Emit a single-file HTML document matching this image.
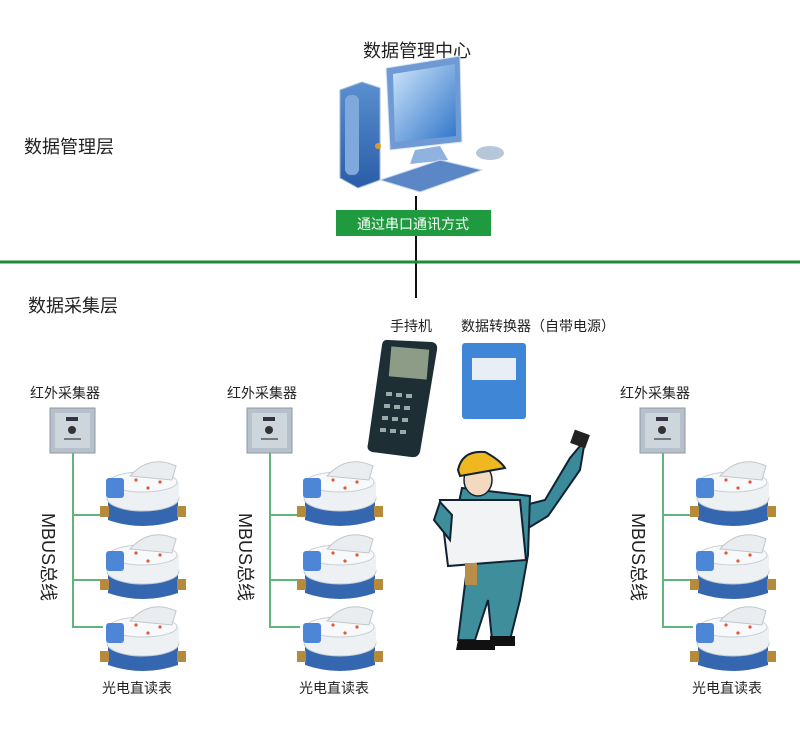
<!DOCTYPE html>
<html><head><meta charset="utf-8"><style>
html,body{margin:0;padding:0;background:#fff;}
svg{display:block;}
text{font-family:"Liberation Sans","Noto Sans CJK SC",sans-serif;fill:#222;}
</style></head><body>
<svg width="800" height="752" viewBox="0 0 800 752" xmlns="http://www.w3.org/2000/svg">
<defs>
<linearGradient id="bl" x1="0" y1="0" x2="0" y2="1"><stop offset="0" stop-color="#5a8fd0"/><stop offset="1" stop-color="#2a5da8"/></linearGradient>
<linearGradient id="scr" x1="0" y1="0" x2="1" y2="1"><stop offset="0" stop-color="#cfe6fb"/><stop offset="1" stop-color="#2e74c9"/></linearGradient>
<g id="meter">
  <path d="M8 40 L78 40 L78 60 Q43 72 8 60 Z" fill="#3566b0"/>
  <rect x="0" y="46" width="9" height="11" fill="#b58a3a"/>
  <rect x="77" y="46" width="9" height="11" fill="#b58a3a"/>
  <ellipse cx="43" cy="38" rx="36" ry="13" fill="#eef1f3" stroke="#c6ccd2"/>
  <rect x="7" y="22" width="72" height="16" fill="#eef1f3"/>
  <ellipse cx="43" cy="22" rx="34" ry="10" fill="#f8f9fa" stroke="#c8ced4"/>
  <path d="M30 16 Q50 -6 76 6 L72 20 Z" fill="#e9edf0" stroke="#c0c7cd"/>
  <rect x="6" y="18" width="18" height="20" rx="3" fill="#4d86d6"/>
  <circle cx="36" cy="20" r="1.6" fill="#e05a3a"/><circle cx="48" cy="28" r="1.6" fill="#e05a3a"/><circle cx="60" cy="22" r="1.6" fill="#e05a3a"/>
</g>
<g id="coll">
  <rect x="0" y="0" width="45" height="45" fill="#b7c1cb" stroke="#8e99a4"/>
  <rect x="5" y="5" width="35" height="35" fill="#cdd5dd"/>
  <rect x="16" y="9" width="12" height="4" fill="#334"/>
  <circle cx="22" cy="22" r="4" fill="#333"/>
  <rect x="14" y="30" width="17" height="2" fill="#777"/>
</g>
</defs>

<text x="417" y="57" font-size="18" text-anchor="middle">数据管理中心</text>
<text x="24" y="153" font-size="18">数据管理层</text>
<text x="28" y="312" font-size="18">数据采集层</text>

<path d="M340 90 L362 82 L380 88 L380 180 L358 188 L340 178 Z" fill="url(#bl)" stroke="#9fb8d8"/>
<rect x="345" y="95" width="14" height="80" rx="6" fill="#7fa8dc"/>
<circle cx="378" cy="146" r="3" fill="#e09a2a"/>
<path d="M386 68 L460 56 L462 142 L390 150 Z" fill="#6f9ad4" stroke="#d8e4f2"/>
<path d="M393 74 L455 64 L456 136 L395 142 Z" fill="url(#scr)"/>
<path d="M415 150 L440 146 L448 160 L410 164 Z" fill="#8fb2de"/>
<path d="M380 180 L440 160 L482 170 L420 192 Z" fill="#5b87c6" stroke="#c9d9ee"/>
<ellipse cx="490" cy="153" rx="14" ry="7" fill="#b6c7da"/>

<line x1="416" y1="196" x2="416" y2="298" stroke="#111" stroke-width="2"/>
<rect x="336" y="210" width="155" height="26" fill="#1f9a3e"/>
<text x="413" y="229" font-size="14" text-anchor="middle" style="fill:#fff">通过串口通讯方式</text>
<line x1="0" y1="262" x2="800" y2="262" stroke="#1e8a3a" stroke-width="3"/>

<text x="390" y="331" font-size="14">手持机</text>
<text x="461" y="331" font-size="14">数据转换器（自带电源）</text>

<path d="M388 340 L432 342 Q438 343 437 350 L420 452 Q418 458 411 457 L372 452 Q366 450 368 444 L382 345 Q383 339 388 340 Z" fill="#1d2e35"/>
<rect x="390" y="348" width="38" height="30" fill="#8d9c86" transform="rotate(5 409 363)"/>
<g fill="#9aa">
<rect x="386" y="392" width="6" height="4"/><rect x="396" y="393" width="6" height="4"/><rect x="406" y="394" width="6" height="4"/>
<rect x="384" y="404" width="6" height="4"/><rect x="394" y="405" width="6" height="4"/><rect x="404" y="406" width="6" height="4"/>
<rect x="382" y="416" width="6" height="4"/><rect x="392" y="417" width="6" height="4"/><rect x="402" y="418" width="6" height="4"/>
<rect x="380" y="428" width="6" height="4"/><rect x="390" y="429" width="6" height="4"/><rect x="400" y="430" width="6" height="4"/>
</g>
<rect x="462" y="343" width="64" height="76" rx="3" fill="#3f86d6"/>
<rect x="472" y="358" width="44" height="22" fill="#e7eef6"/>

<path d="M585 440 L570 458 L545 500 L525 505 L525 530 L548 516 L580 470 Z" fill="#3b8a9a" stroke="#123" stroke-width="2"/>
<rect x="572" y="432" width="16" height="14" fill="#222" transform="rotate(20 580 439)"/>
<path d="M462 488 L530 496 L528 555 L520 600 L510 640 L492 640 L488 600 L475 640 L458 640 L468 560 L450 545 Z" fill="#3f8e9c" stroke="#123" stroke-width="2"/>
<path d="M440 500 L520 500 L526 560 L448 566 Z" fill="#f2f3f4" stroke="#123" stroke-width="2"/>
<path d="M440 502 L434 520 L450 540 L452 515 Z" fill="#3f8e9c" stroke="#123" stroke-width="2"/>
<rect x="465" y="563" width="12" height="22" fill="#b98e4a"/>
<ellipse cx="478" cy="480" rx="14" ry="16" fill="#f3d9c0" stroke="#123" stroke-width="1.5"/>
<path d="M458 470 Q462 450 485 452 Q500 460 505 468 L460 476 Z" fill="#f0b820" stroke="#123" stroke-width="2"/>
<path d="M458 640 L495 640 L495 650 L456 650 Z M490 636 L515 636 L515 646 L490 646 Z" fill="#111"/>

<g id="grp">
  <text x="30" y="398" font-size="14">红外采集器</text>
  <use href="#coll" x="50" y="408"/>
  <line x1="73" y1="453" x2="73" y2="628" stroke="#5fb57a" stroke-width="2"/>
  <line x1="73" y1="515" x2="103" y2="515" stroke="#5fb57a" stroke-width="2"/>
  <line x1="73" y1="580" x2="103" y2="580" stroke="#5fb57a" stroke-width="2"/>
  <line x1="73" y1="627" x2="103" y2="627" stroke="#5fb57a" stroke-width="2"/>
  <use href="#meter" x="100" y="460"/>
  <use href="#meter" x="100" y="533"/>
  <use href="#meter" x="100" y="605"/>
  <text x="0" y="0" font-size="18" transform="translate(42 513) rotate(90)">MBUS总线</text>
  <text x="102" y="693" font-size="14">光电直读表</text>
</g>
<use href="#grp" x="197"/>
<use href="#grp" x="590"/>
</svg>
</body></html>
